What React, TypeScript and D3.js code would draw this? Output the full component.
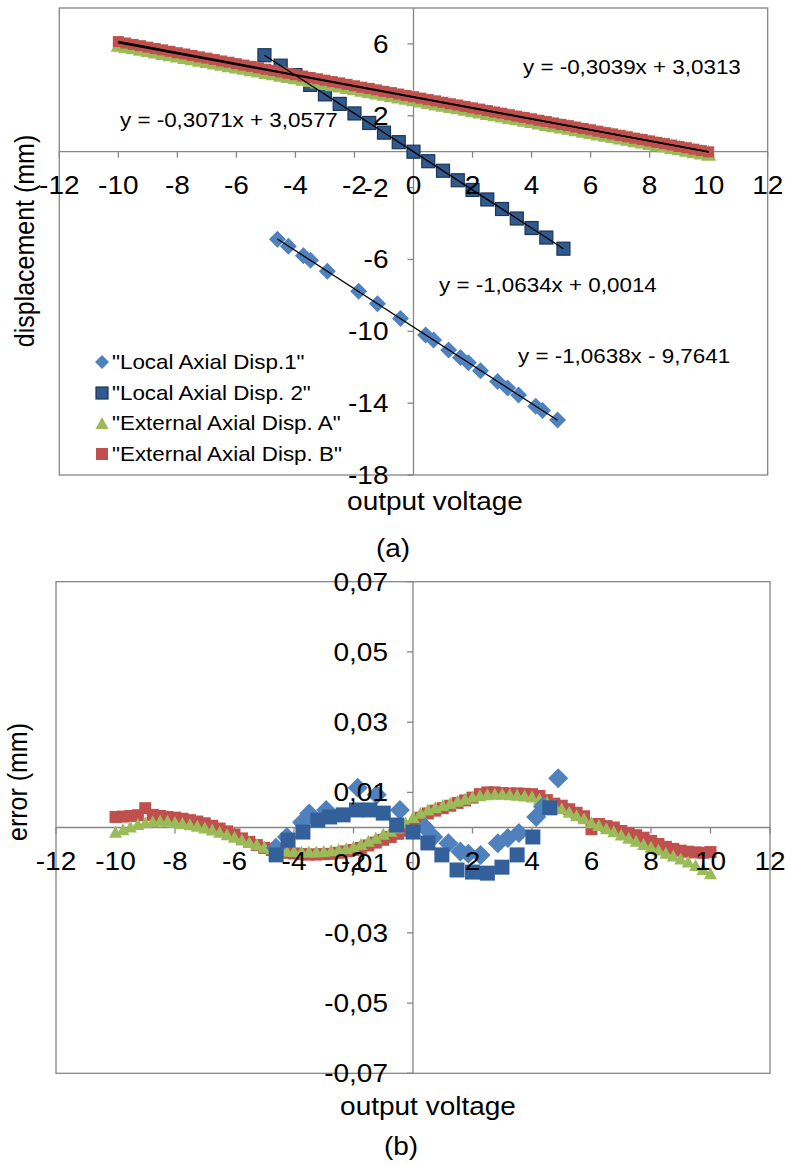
import React from 'react';
import * as d3 from 'd3';

const FONT = '"Liberation Sans", Arial, sans-serif';
const SX = 1.12;

// ---------- (a) displacement vs output voltage ----------
const local1X = [-4.61, -4.24, -3.73, -3.49, -2.92, -1.86, -1.22, -0.44, 0.41, 0.68, 1.19, 1.59, 1.86, 2.27, 2.85, 3.19, 3.56, 4.14, 4.37, 4.88];
const local1Y = [-4.87, -5.26, -5.79, -6.05, -6.65, -7.77, -8.46, -9.29, -10.2, -10.49, -11.04, -11.46, -11.75, -12.19, -12.8, -13.16, -13.55, -14.17, -14.41, -14.94];

const local2X = [-5.05, -4.5, -4.0, -3.5, -3.0, -2.5, -2.0, -1.5, -1.0, -0.5, 0, 0.5, 1.0, 1.5, 2.0, 2.5, 3.0, 3.5, 4.0, 4.5, 5.08];
const local2Y = [5.37, 4.79, 4.26, 3.72, 3.19, 2.66, 2.13, 1.6, 1.06, 0.53, 0.0, -0.53, -1.06, -1.59, -2.13, -2.66, -3.19, -3.72, -4.25, -4.78, -5.4];

const extX = [-10, -9.75, -9.5, -9.25, -9, -8.75, -8.5, -8.25, -8, -7.75, -7.5, -7.25, -7, -6.75, -6.5, -6.25, -6, -5.75, -5.5, -5.25, -5, -4.75, -4.5, -4.25, -4, -3.75, -3.5, -3.25, -3, -2.75, -2.5, -2.25, -2, -1.75, -1.5, -1.25, -1, -0.75, -0.5, -0.25, 0, 0.25, 0.5, 0.75, 1, 1.25, 1.5, 1.75, 2, 2.25, 2.5, 2.75, 3, 3.25, 3.5, 3.75, 4, 4.25, 4.5, 4.75, 5, 5.25, 5.5, 5.75, 6, 6.25, 6.5, 6.75, 7, 7.25, 7.5, 7.75, 8, 8.25, 8.5, 8.75, 9, 9.25, 9.5, 9.75, 10];
const extAY = [6.07, 5.99, 5.92, 5.84, 5.77, 5.69, 5.61, 5.54, 5.46, 5.39, 5.31, 5.23, 5.16, 5.08, 5.01, 4.93, 4.85, 4.78, 4.7, 4.63, 4.55, 4.48, 4.4, 4.32, 4.25, 4.17, 4.1, 4.02, 3.94, 3.87, 3.79, 3.72, 3.64, 3.56, 3.49, 3.41, 3.34, 3.26, 3.18, 3.11, 3.03, 2.96, 2.88, 2.8, 2.73, 2.65, 2.58, 2.5, 2.42, 2.35, 2.27, 2.2, 2.12, 2.04, 1.97, 1.89, 1.82, 1.74, 1.66, 1.59, 1.51, 1.44, 1.36, 1.28, 1.21, 1.13, 1.06, 0.98, 0.9, 0.83, 0.75, 0.68, 0.6, 0.52, 0.45, 0.37, 0.3, 0.22, 0.14, 0.07, -0.01];
const extBY = [6.13, 6.05, 5.97, 5.9, 5.82, 5.74, 5.67, 5.59, 5.51, 5.44, 5.36, 5.28, 5.21, 5.13, 5.05, 4.98, 4.9, 4.82, 4.75, 4.67, 4.59, 4.52, 4.44, 4.36, 4.29, 4.21, 4.13, 4.06, 3.98, 3.9, 3.83, 3.75, 3.67, 3.59, 3.52, 3.44, 3.36, 3.29, 3.21, 3.13, 3.06, 2.98, 2.9, 2.83, 2.75, 2.67, 2.6, 2.52, 2.44, 2.37, 2.29, 2.21, 2.14, 2.06, 1.98, 1.91, 1.83, 1.75, 1.68, 1.6, 1.52, 1.45, 1.37, 1.29, 1.22, 1.14, 1.06, 0.99, 0.91, 0.83, 0.75, 0.68, 0.6, 0.52, 0.45, 0.37, 0.29, 0.22, 0.14, 0.06, -0.01];

// trend lines: [slope, intercept, xmin, xmax]
const trend1 = [-1.0638, -9.7641, -4.61, 4.88];
const trend2 = [-1.0634, 0.0014, -5.05, 5.08];
const trendA = [-0.3039, 3.0313, -10, 10];
const trendB = [-0.3071, 3.0577, -10, 10];

const xTicks = [-12, -10, -8, -6, -4, -2, 0, 2, 4, 6, 8, 10, 12];
const yTicksA = [-18, -14, -10, -6, -2, 2, 6];

const eqLabels = ['y = -0,3071x + 3,0577', 'y = -0,3039x + 3,0313', 'y = -1,0634x + 0,0014', 'y = -1,0638x - 9,7641'];
const legendLabels = ['"Local Axial Disp.1"', '"Local Axial Disp. 2"', '"External Axial Disp. A"', '"External Axial Disp. B"'];

// ---------- (b) error vs output voltage ----------
const errLocal1Y = [-0.0058, -0.0027, 0.0015, 0.004, 0.005, 0.0113, 0.0093, 0.005, 0.0, -0.0027, -0.0045, -0.0068, -0.0075, -0.0078, -0.0045, -0.003, -0.0016, 0.003, 0.006, 0.014];
const errLocal2X = [-4.6, -4.2, -3.7, -3.2, -2.8, -2.35, -1.9, -1.45, -1.0, -0.55, 0, 0.5, 0.97, 1.48, 2.0, 2.5, 2.99, 3.5, 4.03, 4.6];
const errLocal2Y = [-0.0078, -0.0036, -0.0013, 0.0021, 0.003, 0.0036, 0.005, 0.005, 0.0041, 0.0007, -0.0013, -0.0044, -0.0078, -0.0121, -0.0127, -0.013, -0.0113, -0.0078, -0.0027, 0.0056];
const errAY = [-0.0012, -0.0005, 0.0003, 0.001, 0.0015, 0.0018, 0.002, 0.0019, 0.0016, 0.0013, 0.0009, 0.0005, 0.0, -0.0006, -0.0012, -0.0019, -0.0026, -0.0034, -0.0041, -0.0048, -0.0055, -0.0059, -0.0063, -0.0066, -0.0067, -0.0068, -0.0068, -0.0068, -0.0067, -0.0065, -0.0062, -0.0059, -0.0054, -0.0047, -0.0038, -0.0029, -0.0018, -0.0009, 0.0, 0.0014, 0.003, 0.0042, 0.0051, 0.0058, 0.0064, 0.007, 0.0076, 0.0082, 0.0088, 0.0092, 0.0095, 0.0096, 0.0096, 0.0095, 0.0093, 0.0091, 0.0088, 0.0082, 0.0073, 0.0064, 0.0055, 0.0045, 0.0035, 0.0026, 0.0015, 0.0007, -0.0002, -0.0011, -0.002, -0.0029, -0.0038, -0.0047, -0.0055, -0.0063, -0.0072, -0.008, -0.0088, -0.0097, -0.0107, -0.0118, -0.013];
const errBY = [0.003, 0.0031, 0.0033, 0.0035, 0.0055, 0.0036, 0.0033, 0.003, 0.0028, 0.0025, 0.0021, 0.0017, 0.0012, 0.0005, -0.0003, -0.0011, -0.002, -0.0031, -0.0041, -0.005, -0.0058, -0.0064, -0.0069, -0.0072, -0.0074, -0.0076, -0.0077, -0.0077, -0.0076, -0.0075, -0.0072, -0.0068, -0.0064, -0.0058, -0.0051, -0.0043, -0.0035, -0.0027, -0.0018, -0.0009, 0.0002, 0.0028, 0.004, 0.0048, 0.0055, 0.0062, 0.007, 0.0077, 0.0085, 0.0095, 0.01, 0.01, 0.0098, 0.0097, 0.0097, 0.0096, 0.0095, 0.009, 0.0078, 0.0068, 0.0062, 0.0052, 0.0042, 0.0032, -0.0005, 0.001, 0.0004, 0.0, -0.001, -0.0016, -0.0022, -0.0029, -0.0038, -0.0047, -0.0055, -0.0061, -0.0066, -0.0069, -0.0071, -0.0072, -0.007];
const yTicksB = [-0.07, -0.05, -0.03, -0.01, 0.01, 0.03, 0.05, 0.07];

const C_DIAM = '#4F81BD';
const C_SQ = '#30598C';
const C_SQ_STROKE = '#1B3558';
const C_TRI = '#9BBB59';
const C_RED = '#C0504D';
const AXIS = '#868686';

const diamond = (cx: number, cy: number, r: number) => `M${cx},${cy - r}L${cx + r},${cy}L${cx},${cy + r}L${cx - r},${cy}Z`;
const triangle = (cx: number, cy: number, w: number, h: number) => `M${cx},${cy - h / 2}L${cx + w / 2},${cy + h / 2}L${cx - w / 2},${cy + h / 2}Z`;

function T({ x, y, size, anchor = 'middle', rotate = 0, children }: any) {
  const tr = `translate(${x},${y}) scale(${SX},1)` + (rotate ? ` rotate(${rotate})` : '');
  return (
    <text transform={tr} fontSize={size} textAnchor={anchor} fontFamily={FONT} fill="#000">
      {children}
    </text>
  );
}

const fmtComma = (v: number) => v.toFixed(2).replace('.', ',');

function Axes({ x, y, xt, yt }: any) {
  const [x0, x1] = x.range();
  const [y0, y1] = y.range();
  const ax = x(0);
  const ay = y(0);
  return (
    <g>
      <rect x={x0} y={y1} width={x1 - x0} height={y0 - y1} fill="none" stroke={AXIS} strokeWidth={1.3} />
      <line x1={x0} x2={x1} y1={ay} y2={ay} stroke={AXIS} strokeWidth={1.3} />
      <line x1={ax} x2={ax} y1={y1} y2={y0} stroke={AXIS} strokeWidth={1.3} />
      {xt.map((t: number) => (
        <line key={'xt' + t} x1={x(t)} x2={x(t)} y1={ay} y2={ay + 6} stroke={AXIS} strokeWidth={1.3} />
      ))}
      {yt.map((t: number) => (
        <line key={'yt' + t} x1={ax - 6} x2={ax} y1={y(t)} y2={y(t)} stroke={AXIS} strokeWidth={1.3} />
      ))}
    </g>
  );
}

function AxisLabels({ x, y, xt, yt, fmt }: any) {
  const ax = x(0);
  const ay = y(0);
  return (
    <g>
      {xt.map((t: number) => (
        <T key={'xl' + t} x={x(t)} y={ay + 42} size={25}>{String(t)}</T>
      ))}
      {yt.map((t: number) => (
        <T key={'yl' + t} x={ax - 25} y={y(t) + 9} size={25} anchor="end">{fmt(t)}</T>
      ))}
    </g>
  );
}

export default function App() {
  // chart (a)
  const xA = d3.scaleLinear().domain([-12, 12]).range([59.3, 767.7]);
  const yA = d3.scaleLinear().domain([-18, 8]).range([475, 8]);
  // chart (b)
  const xB = d3.scaleLinear().domain([-12, 12]).range([56, 770]);
  const yB = d3.scaleLinear().domain([-0.07, 0.07]).range([1073.3, 581.7]);

  const trendLine = (tr: number[], w: number, key: string) => (
    <line key={key} x1={xA(tr[2])} y1={yA(tr[0] * tr[2] + tr[1])} x2={xA(tr[3])} y2={yA(tr[0] * tr[3] + tr[1])} stroke="#000" strokeWidth={w} />
  );

  return (
    <svg width={785} height={1165} style={{ position: 'absolute', left: 0, top: 0, background: '#fff' }}>
      <rect x={0} y={0} width={785} height={1165} fill="#fff" />
      {/* ---------------- (a) ---------------- */}
      <Axes x={xA} y={yA} xt={xTicks} yt={yTicksA} />
      <g>
        {local1X.map((v, i) => (
          <path key={'d' + i} d={diamond(xA(v), yA(local1Y[i]), 8.5)} fill={C_DIAM} />
        ))}
        {local2X.map((v, i) => (
          <rect key={'s' + i} x={xA(v) - 6.5} y={yA(local2Y[i]) - 6.5} width={13} height={13} fill={C_SQ} stroke={C_SQ_STROKE} strokeWidth={1.2} />
        ))}
        {extX.map((v, i) => (
          <path key={'t' + i} d={triangle(xA(v), yA(extAY[i]) + 1, 15, 16)} fill={C_TRI} />
        ))}
        {extX.map((v, i) => (
          <rect key={'r' + i} x={xA(v) - 5.5} y={yA(extBY[i]) - 5.5} width={11} height={11} fill={C_RED} />
        ))}
      </g>
      {trendLine(trend1, 1.3, 'tl1')}
      {trendLine(trend2, 1.3, 'tl2')}
      {trendLine(trendA, 1.6, 'tlA')}
      {trendLine(trendB, 1.6, 'tlB')}
      <AxisLabels x={xA} y={yA} xt={xTicks} yt={yTicksA} fmt={(v: number) => String(v)} />
      <T x={120} y={127} size={20} anchor="start">{eqLabels[0]}</T>
      <T x={523} y={74} size={20} anchor="start">{eqLabels[1]}</T>
      <T x={439} y={292} size={20} anchor="start">{eqLabels[2]}</T>
      <T x={518} y={363} size={20} anchor="start">{eqLabels[3]}</T>
      {/* legend */}
      <g>
        <path d={diamond(102, 362, 7)} fill={C_DIAM} />
        <rect x={96} y={387} width={12} height={12} fill={C_SQ} stroke={C_SQ_STROKE} strokeWidth={1.2} />
        <path d={triangle(102, 423, 13, 12)} fill={C_TRI} />
        <rect x={96} y={448} width={12} height={12} fill={C_RED} />
        {legendLabels.map((l, i) => (
          <T key={'lg' + i} x={112} y={369 + i * 30.7} size={20} anchor="start">{l}</T>
        ))}
      </g>
      <T x={34} y={241} size={25} rotate={-90}>displacement (mm)</T>
      <T x={435} y={510} size={25}>output voltage</T>
      <T x={393} y={557} size={25}>(a)</T>

      {/* ---------------- (b) ---------------- */}
      <Axes x={xB} y={yB} xt={xTicks} yt={yTicksB} />
      <g>
        {extX.map((v, i) => (
          <rect key={'br' + i} x={xB(v) - 6} y={yB(errBY[i]) - 6} width={12} height={12} fill={C_RED} />
        ))}
        {extX.map((v, i) => (
          <path key={'bt' + i} d={triangle(xB(v), yB(errAY[i]), 13, 12)} fill={C_TRI} />
        ))}
        {local1X.map((v, i) => (
          <path key={'bd' + i} d={diamond(xB(v), yB(errLocal1Y[i]), 10)} fill={C_DIAM} />
        ))}
        {errLocal2X.map((v, i) => (
          <rect key={'bs' + i} x={xB(v) - 7.5} y={yB(errLocal2Y[i]) - 7.5} width={15} height={15} fill="#33609A" />
        ))}
      </g>
      <AxisLabels x={xB} y={yB} xt={xTicks} yt={yTicksB} fmt={fmtComma} />
      <T x={27} y={782} size={25} rotate={-90}>error (mm)</T>
      <T x={428} y={1115} size={25}>output voltage</T>
      <T x={401} y={1155} size={25}>(b)</T>
    </svg>
  );
}
